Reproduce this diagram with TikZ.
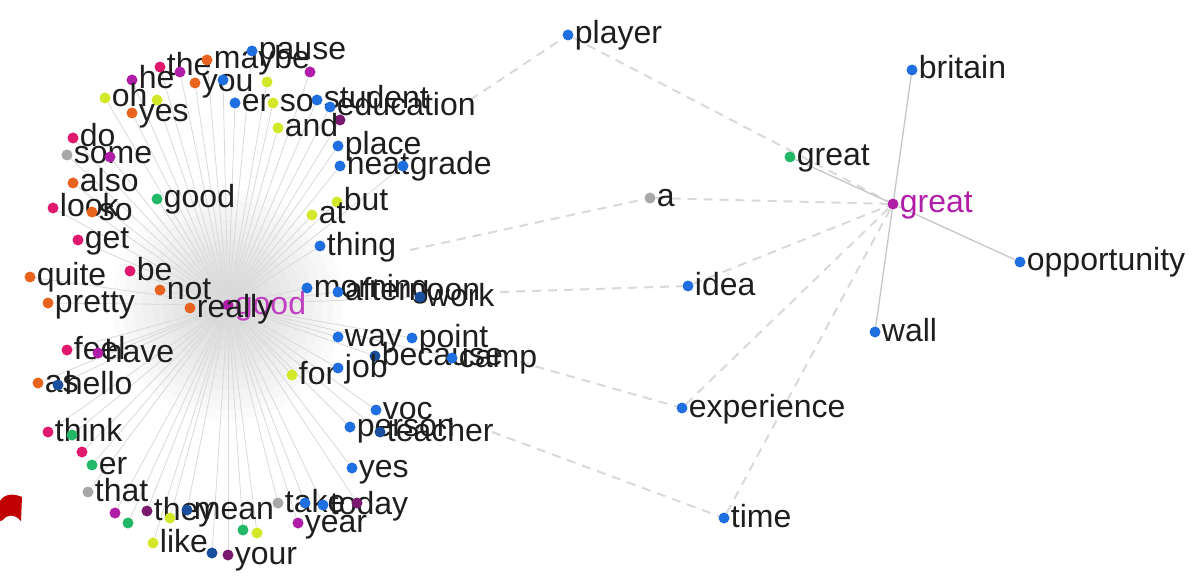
\documentclass[tikz,border=0pt]{standalone}
\usepackage{fontspec}
\setmainfont{Liberation Sans}
\usetikzlibrary{backgrounds}
\definecolor{cblue}{HTML}{1F6FE0}
\definecolor{cpink}{HTML}{E0186E}
\definecolor{corange}{HTML}{E8641E}
\definecolor{cyellow}{HTML}{D4E82A}
\definecolor{cgreen}{HTML}{22B86A}
\definecolor{cgray}{HTML}{A8A8A8}
\definecolor{cmag}{HTML}{B01EA8}
\definecolor{cdmag}{HTML}{7A1A6E}
\definecolor{cdblue}{HTML}{1A4F9E}
\definecolor{txt}{HTML}{1E1E1E}
\definecolor{hubtxt}{HTML}{C040C0}
\definecolor{cred}{HTML}{C00000}
\tikzset{
  dot/.style={circle, inner sep=0pt, minimum size=11pt, draw=none},
  lbl/.style={font=\fontsize{32}{32}\selectfont, text=txt, inner sep=0pt},
  spoke/.style={draw=gray!30, line width=0.8pt},
  dash link/.style={draw=gray!30, dash pattern=on 9pt off 7pt, line width=2pt},
  solid link/.style={draw=gray!45, line width=1.3pt},
}
\newcommand\wnode[5]{\node[dot, fill=#4] (#1) at (#2,#3) {};
  \node[lbl, anchor=base west] (#1t) at ([xshift=1pt,yshift=-9pt]#1.east) {#5};}
\begin{document}
\begin{tikzpicture}[x=1pt,y=-1pt]
\useasboundingbox (0,0) rectangle (1204,577);
% hub
\node[dot, fill=cmag] (c) at (228,305) {};
\node[lbl, anchor=base west, text=hubtxt] (ct) at ([xshift=1pt,yshift=-9pt]c.east) {good};
% left cluster
\wnode{n1}{160}{67}{cpink}{the}
\wnode{n2}{207}{60}{corange}{maybe}
\wnode{n3}{252}{51}{cblue}{pause}
\wnode{n4}{310}{72}{cmag}{}
\wnode{n5}{132}{80}{cmag}{he}
\wnode{n6}{180}{72}{cmag}{}
\wnode{n7}{195}{83}{corange}{you}
\wnode{n8}{223}{80}{cblue}{}
\wnode{n9}{267}{82}{cyellow}{}
\wnode{n10}{105}{98}{cyellow}{oh}
\wnode{n11}{157}{100}{cyellow}{}
\wnode{n12}{132}{113}{corange}{yes}
\wnode{n13}{235}{103}{cblue}{er}
\wnode{n14}{273}{103}{cyellow}{so}
\wnode{n15}{317}{100}{cblue}{student}
\wnode{n16}{330}{107}{cblue}{education}
\wnode{n17}{340}{120}{cdmag}{}
\wnode{n18}{278}{128}{cyellow}{and}
\wnode{n19}{338}{146}{cblue}{place}
\wnode{n20}{340}{166}{cblue}{neat}
\wnode{n21}{403}{166}{cblue}{grade}
\wnode{n22}{73}{138}{cpink}{do}
\wnode{n23}{67}{155}{cgray}{some}
\wnode{n24}{110}{157}{cmag}{}
\wnode{n25}{73}{183}{corange}{also}
\wnode{n26}{157}{199}{cgreen}{good}
\wnode{n27}{53}{208}{cpink}{look}
\wnode{n28}{92}{212}{corange}{so}
\wnode{n29}{78}{240}{cpink}{get}
\wnode{n30}{337}{202}{cyellow}{but}
\wnode{n31}{312}{215}{cyellow}{at}
\wnode{n32}{320}{246}{cblue}{thing}
\wnode{n33}{30}{277}{corange}{quite}
\wnode{n34}{130}{271}{cpink}{be}
\wnode{n35}{160}{290}{corange}{not}
\wnode{n36}{48}{303}{corange}{pretty}
\wnode{n37}{190}{308}{corange}{really}
\wnode{n38}{307}{288}{cblue}{morning}
\wnode{n39}{338}{292}{cblue}{afternoon}
\wnode{n40}{420}{297}{cdblue}{work}
\wnode{n41}{338}{337}{cblue}{way}
\wnode{n42}{412}{338}{cblue}{point}
\wnode{n43}{375}{356}{cdblue}{because}
\wnode{n44}{452}{358}{cblue}{camp}
\wnode{n45}{292}{375}{cyellow}{for}
\wnode{n46}{338}{368}{cblue}{job}
\wnode{n47}{67}{350}{cpink}{feel}
\wnode{n48}{98}{353}{cmag}{have}
\wnode{n49}{38}{383}{corange}{as}
\wnode{n50}{58}{385}{cdblue}{hello}
\wnode{n51}{376}{410}{cblue}{voc}
\wnode{n52}{350}{427}{cblue}{person}
\wnode{n53}{380}{432}{cdblue}{teacher}
\wnode{n54}{352}{468}{cblue}{yes}
\wnode{n55}{48}{432}{cpink}{think}
\wnode{n56}{72}{435}{cgreen}{}
\wnode{n57}{82}{452}{cpink}{}
\wnode{n58}{92}{465}{cgreen}{er}
\wnode{n59}{88}{492}{cgray}{that}
\wnode{n60}{115}{513}{cmag}{}
\wnode{n61}{128}{523}{cgreen}{}
\wnode{n62}{147}{511}{cdmag}{they}
\wnode{n63}{170}{518}{cyellow}{}
\wnode{n64}{187}{510}{cdblue}{mean}
\wnode{n65}{153}{543}{cyellow}{like}
\wnode{n66}{212}{553}{cdblue}{}
\wnode{n67}{228}{555}{cdmag}{your}
\wnode{n68}{243}{530}{cgreen}{}
\wnode{n69}{257}{533}{cyellow}{}
\wnode{n70}{298}{523}{cmag}{year}
\wnode{n71}{278}{503}{cgray}{take}
\wnode{n72}{305}{503}{cblue}{}
\wnode{n73}{323}{505}{cblue}{today}
\wnode{n74}{357}{503}{cdmag}{}
% right cluster
\wnode{player}{568}{35}{cblue}{player}
\wnode{ga}{650}{198}{cgray}{a}
\wnode{idea}{688}{286}{cblue}{idea}
\wnode{exp}{682}{408}{cblue}{experience}
\wnode{time}{724}{518}{cblue}{time}
\wnode{gg}{790}{157}{cgreen}{great}
\node[dot, fill=cmag] (g) at (893,204) {};
\node[lbl, anchor=base west, text=cmag] (gt) at ([xshift=1pt,yshift=-9pt]g.east) {great};
\wnode{brit}{912}{70}{cblue}{britain}
\wnode{opp}{1020}{262}{cblue}{opportunity}
\wnode{wall}{875}{332}{cblue}{wall}
\coordinate (l1) at (470,100);
\coordinate (l2) at (410,250);
\coordinate (l3) at (500,292);
\coordinate (l4) at (520,362);
\coordinate (l5) at (492,432);
\begin{scope}[on background layer]
  \foreach \r in {15,25,...,115} \fill[gray, opacity=0.03] (c) circle (\r);
  \foreach \i in {1,...,74} \draw[spoke] (c) -- (n\i);
  \draw[dash link] (l1) -- (player);
  \draw[dash link] (l2) -- (ga);
  \draw[dash link] (l3) -- (idea);
  \draw[dash link] (l4) -- (exp);
  \draw[dash link] (l5) -- (time);
  \draw[dash link] (player) -- (g);
  \draw[dash link] (ga) -- (g);
  \draw[dash link] (idea) -- (g);
  \draw[dash link] (exp) -- (g);
  \draw[dash link] (time) -- (g);
  \draw[solid link] (g) -- (brit);
  \draw[solid link] (g) -- (gg);
  \draw[solid link] (g) -- (opp);
  \draw[solid link] (g) -- (wall);
\end{scope}
\fill[cred] (0,501) .. controls (4,494) and (13,493) .. (22,497) -- (21,521)
  .. controls (15,514) and (7,514) .. (3,520) -- (0,521) -- cycle;
\end{tikzpicture}
\end{document}
